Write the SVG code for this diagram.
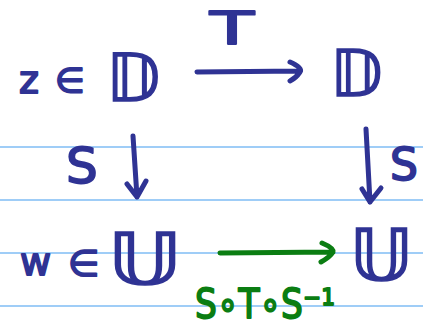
<svg xmlns="http://www.w3.org/2000/svg" width="423" height="328" viewBox="0 0 423 328">
<defs>
<style>
.rule{stroke:#9fcdf7;stroke-width:2}
.ink{fill:#2f3394;stroke:#2f3394;stroke-width:1.8;stroke-linejoin:round;font-family:"DejaVu Sans","Noto Sans",sans-serif}
.bb{fill:#2f3394;stroke:#2f3394;stroke-width:1.6;font-family:"DejaVu Sans","Noto Sans",sans-serif}
.inkg{fill:#0b7d12;stroke:#0b7d12;stroke-width:1.8;stroke-linejoin:round;font-family:"DejaVu Sans","Noto Sans",sans-serif}
.line{fill:none;stroke:#2f3394;stroke-width:5;stroke-linecap:round;stroke-linejoin:round}
.lineg{fill:none;stroke:#0b7d12;stroke-width:5;stroke-linecap:round;stroke-linejoin:round}
</style>
</defs>
<rect width="423" height="328" fill="#ffffff"/>
<g id="paper">
<line class="rule" x1="0" y1="147" x2="423" y2="147"/>
<line class="rule" x1="0" y1="200" x2="423" y2="200"/>
<line class="rule" x1="0" y1="253" x2="423" y2="253"/>
<line class="rule" x1="0" y1="306" x2="423" y2="306"/>
</g>
<g id="nodeD1">
<text class="ink" x="19" y="93" font-size="38">z</text>
<text class="ink" x="55" y="92" font-size="34">∈</text>
<text class="bb" x="106" y="101" font-size="66">𝔻</text>
</g>
<g id="nodeD2">
<text class="bb" x="330" y="96" font-size="64">𝔻</text>
</g>
<g id="nodeU1">
<text class="ink" x="20" y="275" font-size="38">w</text>
<text class="ink" x="68" y="276" font-size="36">∈</text>
<text class="bb" x="108" y="284" font-size="72" textLength="74" lengthAdjust="spacingAndGlyphs">𝕌</text>
</g>
<g id="nodeU2">
<text class="bb" x="350" y="280" font-size="72" textLength="63" lengthAdjust="spacingAndGlyphs">𝕌</text>
</g>
<g id="connectors">
<path class="line" d="M197 72 L300 71 M290 62 Q303 68 300 72 Q296 78 290 81"/>
<text class="ink" x="210" y="44" font-size="44" textLength="44" lengthAdjust="spacingAndGlyphs">T</text>
<path class="line" d="M133 136 L137 197 M127 184 L137 197 L146 181"/>
<text class="ink" x="66" y="183" font-size="50">S</text>
<path class="line" d="M366 129 L370 202 M362 189 L370 202 L381 188"/>
<text class="ink" x="390" y="180" font-size="44">S</text>
<path class="lineg" d="M220 253 L333 252 M322 243 Q334 248 333 252 Q330 257 321 262"/>
<text class="inkg" x="195" y="318" font-size="40" textLength="140" lengthAdjust="spacingAndGlyphs">S∘T∘S⁻¹</text>
</g>
</svg>
